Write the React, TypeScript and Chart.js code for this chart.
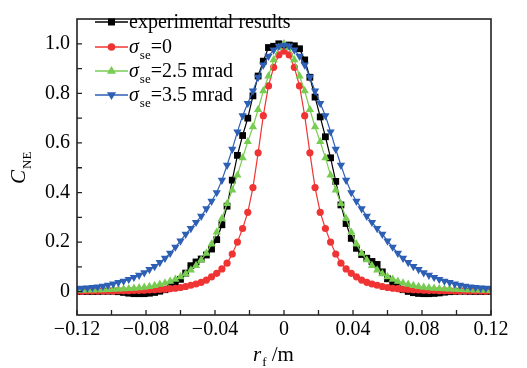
import React, { useEffect, useRef } from "react";
import { Chart, registerables } from "chart.js";

Chart.register(...registerables);

// r_f (m)
const rf = [
  -0.120, -0.117, -0.114, -0.111, -0.108, -0.105, -0.102, -0.099, -0.096, -0.093,
  -0.090, -0.087, -0.084, -0.081, -0.078, -0.075, -0.072, -0.069, -0.066, -0.063,
  -0.060, -0.057, -0.054, -0.051, -0.048, -0.045, -0.042, -0.039, -0.036, -0.033,
  -0.030, -0.027, -0.024, -0.021, -0.018, -0.015, -0.012, -0.009, -0.006, -0.003,
  0,
  0.003, 0.006, 0.009, 0.012, 0.015, 0.018, 0.021, 0.024, 0.027, 0.030,
  0.033, 0.036, 0.039, 0.042, 0.045, 0.048, 0.051, 0.054, 0.057, 0.060,
  0.063, 0.066, 0.069, 0.072, 0.075, 0.078, 0.081, 0.084, 0.087, 0.090,
  0.093, 0.096, 0.099, 0.102, 0.105, 0.108, 0.111, 0.114, 0.117, 0.120,
];

const experimental = [
  0.001, 0.001, 0.001, 0.001, 0.001, 0.002, 0.002, 0.002, 0.000, -0.003,
  -0.006, -0.008, -0.008, -0.008, -0.006, -0.003, 0.002, 0.008, 0.020, 0.034,
  0.050, 0.075, 0.105, 0.120, 0.132, 0.148, 0.172, 0.210, 0.270, 0.345,
  0.450, 0.550, 0.630, 0.700, 0.790, 0.870, 0.930, 0.985, 0.990, 1.000,
  0.990,
  0.995, 0.992, 0.980, 0.935, 0.865, 0.785, 0.705, 0.625, 0.540, 0.445,
  0.350, 0.275, 0.215, 0.175, 0.150, 0.135, 0.122, 0.110, 0.080, 0.052,
  0.035, 0.020, 0.008, 0.001, -0.004, -0.007, -0.008, -0.008, -0.007, -0.005,
  -0.002, 0.000, 0.001, 0.002, 0.002, 0.001, 0.001, 0.001, 0.001, 0.001,
];

const sigma0 = [
  0.002, 0.002, 0.003, 0.003, 0.003, 0.003, 0.003, 0.003, 0.004, 0.004,
  0.004, 0.005, 0.005, 0.006, 0.007, 0.008, 0.009, 0.010, 0.012, 0.014,
  0.017, 0.021, 0.026, 0.031, 0.038, 0.047, 0.060, 0.074, 0.092, 0.115,
  0.152, 0.200, 0.255, 0.320, 0.420, 0.560, 0.710, 0.830, 0.905, 0.955,
  0.970,
  0.955, 0.905, 0.830, 0.710, 0.560, 0.420, 0.320, 0.255, 0.200, 0.152,
  0.115, 0.092, 0.074, 0.060, 0.047, 0.038, 0.031, 0.026, 0.021, 0.017,
  0.014, 0.012, 0.010, 0.009, 0.008, 0.007, 0.006, 0.005, 0.005, 0.004,
  0.004, 0.004, 0.003, 0.003, 0.003, 0.003, 0.003, 0.003, 0.002, 0.002,
];

const sigma25 = [
  0.005, 0.005, 0.006, 0.006, 0.007, 0.007, 0.008, 0.009, 0.010, 0.011,
  0.012, 0.014, 0.016, 0.018, 0.021, 0.025, 0.030, 0.035, 0.042, 0.050,
  0.060, 0.072, 0.087, 0.105, 0.128, 0.155, 0.192, 0.240, 0.295, 0.355,
  0.410, 0.470, 0.540, 0.605, 0.665, 0.735, 0.810, 0.870, 0.935, 0.985,
  1.000,
  0.985, 0.935, 0.870, 0.810, 0.735, 0.665, 0.605, 0.540, 0.470, 0.410,
  0.355, 0.295, 0.240, 0.192, 0.155, 0.128, 0.105, 0.087, 0.072, 0.060,
  0.050, 0.042, 0.035, 0.030, 0.025, 0.021, 0.018, 0.016, 0.014, 0.012,
  0.011, 0.010, 0.009, 0.008, 0.007, 0.007, 0.006, 0.006, 0.005, 0.005,
];

const sigma35 = [
  0.013, 0.014, 0.015, 0.017, 0.019, 0.022, 0.026, 0.031, 0.037, 0.043,
  0.050, 0.058, 0.067, 0.077, 0.090, 0.102, 0.118, 0.135, 0.155, 0.180,
  0.205, 0.232, 0.255, 0.280, 0.305, 0.335, 0.365, 0.400, 0.450, 0.510,
  0.575, 0.645, 0.710, 0.760, 0.810, 0.865, 0.915, 0.950, 0.975, 0.990,
  0.995,
  0.990, 0.975, 0.950, 0.915, 0.865, 0.810, 0.760, 0.710, 0.645, 0.575,
  0.510, 0.450, 0.400, 0.365, 0.335, 0.305, 0.280, 0.255, 0.232, 0.205,
  0.180, 0.155, 0.135, 0.118, 0.102, 0.090, 0.077, 0.067, 0.058, 0.050,
  0.043, 0.037, 0.031, 0.026, 0.022, 0.019, 0.017, 0.015, 0.014, 0.013,
];

const xTicks = [-0.12, -0.1, -0.08, -0.06, -0.04, -0.02, 0, 0.02, 0.04, 0.06, 0.08, 0.1, 0.12];
const xLabels = ["\u22120.12", "", "\u22120.08", "", "\u22120.04", "", "0", "", "0.04", "", "0.08", "", "0.12"];
const yTicks = [0, 0.1, 0.2, 0.3, 0.4, 0.5, 0.6, 0.7, 0.8, 0.9, 1.0];
const yLabels = ["0", "", "0.2", "", "0.4", "", "0.6", "", "0.8", "", "1.0"];

const BLACK = "#000000";
const RED = "#f03434";
const GREEN = "#78cc52";
const BLUE = "#2d5fb4";

const SERIF = '"Liberation Serif", "Times New Roman", serif';

type Part = { t: string; italic?: boolean; sub?: boolean };

const legendRows: { color: string; marker: string; parts: Part[] }[] = [
  { color: BLACK, marker: "square", parts: [{ t: "experimental results" }] },
  { color: RED, marker: "circle", parts: [{ t: "\u03c3", italic: true }, { t: "se", sub: true }, { t: "=0" }] },
  { color: GREEN, marker: "tri", parts: [{ t: "\u03c3", italic: true }, { t: "se", sub: true }, { t: "=2.5 mrad" }] },
  { color: BLUE, marker: "tridown", parts: [{ t: "\u03c3", italic: true }, { t: "se", sub: true }, { t: "=3.5 mrad" }] },
];

function drawMarker(ctx: CanvasRenderingContext2D, kind: string, x: number, y: number, color: string) {
  ctx.fillStyle = color;
  ctx.beginPath();
  if (kind === "square") {
    ctx.rect(x - 3.5, y - 3.5, 7, 7);
  } else if (kind === "circle") {
    ctx.arc(x, y, 3.8, 0, Math.PI * 2);
  } else if (kind === "tri") {
    ctx.moveTo(x, y - 5);
    ctx.lineTo(x + 4.6, y + 2.8);
    ctx.lineTo(x - 4.6, y + 2.8);
    ctx.closePath();
  } else {
    ctx.moveTo(x, y + 5);
    ctx.lineTo(x + 4.6, y - 2.8);
    ctx.lineTo(x - 4.6, y - 2.8);
    ctx.closePath();
  }
  ctx.fill();
}

function drawParts(ctx: CanvasRenderingContext2D, parts: Part[], x: number, y: number, size: number, subSize: number, subDy: number) {
  let cx = x;
  for (const p of parts) {
    const fs = p.sub ? subSize : size;
    ctx.font = `${p.italic ? "italic " : ""}${fs}px ${SERIF}`;
    ctx.fillText(p.t, cx, y + (p.sub ? subDy : 0));
    cx += ctx.measureText(p.t).width + (p.italic ? 1 : 0);
  }
}

const decorPlugin = {
  id: "decor",
  afterDatasetsDraw(chart: any) {
    const ctx: CanvasRenderingContext2D = chart.ctx;
    const { left, right, top, bottom } = chart.chartArea;
    const xs = chart.scales.x;
    const ys = chart.scales.y;
    ctx.save();
    // frame
    ctx.strokeStyle = "#222";
    ctx.lineWidth = 1.6;
    ctx.strokeRect(left, top, right - left, bottom - top);
    // inward ticks
    ctx.lineWidth = 1.3;
    ctx.beginPath();
    for (const v of xTicks) {
      const px = xs.getPixelForValue(v);
      ctx.moveTo(px, bottom);
      ctx.lineTo(px, bottom - 5);
    }
    for (const v of yTicks) {
      const py = ys.getPixelForValue(v);
      ctx.moveTo(left, py);
      ctx.lineTo(left + 5, py);
    }
    ctx.stroke();

    // legend
    const rowY = [22, 47, 71, 95];
    ctx.textBaseline = "alphabetic";
    ctx.textAlign = "left";
    legendRows.forEach((row, i) => {
      const y = rowY[i];
      ctx.strokeStyle = row.color;
      ctx.lineWidth = 1.3;
      ctx.beginPath();
      ctx.moveTo(95, y);
      ctx.lineTo(128, y);
      ctx.stroke();
      drawMarker(ctx, row.marker, 111.5, y, row.color);
      ctx.fillStyle = "#000";
      drawParts(ctx, row.parts, 129, y + 6, 20, 13, 6);
    });

    // y title C_NE (rotated)
    ctx.save();
    ctx.translate(25, 184);
    ctx.rotate(-Math.PI / 2);
    ctx.fillStyle = "#000";
    drawParts(ctx, [{ t: "C", italic: true }, { t: "NE", sub: true }], 0, 0, 21, 13, 6);
    ctx.restore();

    // x title r_f /m
    ctx.fillStyle = "#000";
    drawParts(ctx, [{ t: "r", italic: true }, { t: "f", sub: true }, { t: " /m" }], 253, 361, 21, 13, 5);
    ctx.restore();
  },
};

export default function App() {
  const ref = useRef<HTMLCanvasElement>(null);
  useEffect(() => {
    const mk = (label: string, data: number[], color: string, style: string, radius: number, rot: number, order: number) => ({
      label,
      data: rf.map((x, i) => ({ x, y: data[i] })),
      borderColor: color,
      backgroundColor: color,
      borderWidth: 1.2,
      pointStyle: style,
      pointRadius: radius,
      pointRotation: rot,
      pointBorderWidth: 0,
      pointBackgroundColor: color,
      tension: 0,
      order,
    });
    const chart = new Chart(ref.current!, {
      type: "line",
      data: {
        datasets: [
          mk("experimental results", experimental, BLACK, "rect", 4.8, 0, 3),
          mk("\u03c3se=0", sigma0, RED, "circle", 3.6, 0, 2),
          mk("\u03c3se=2.5 mrad", sigma25, GREEN, "triangle", 4.8, 0, 1),
          mk("\u03c3se=3.5 mrad", sigma35, BLUE, "triangle", 4.8, 180, 0),
        ] as any,
      },
      options: {
        responsive: false,
        animation: false,
        devicePixelRatio: 1,
        parsing: false as any,
        layout: { padding: { left: 0, top: 7, right: 36, bottom: 0 } },
        plugins: { legend: { display: false }, tooltip: { enabled: false } },
        scales: {
          x: {
            type: "linear",
            min: -0.12,
            max: 0.12,
            afterBuildTicks: (s: any) => {
              s.ticks = xTicks.map((v) => ({ value: v }));
            },
            afterFit: (s: any) => {
              s.height = 53;
            },
            ticks: {
              autoSkip: false,
              maxRotation: 0,
              padding: 3,
              color: "#000",
              font: { family: SERIF, size: 20 },
              callback: (_v: any, i: number) => xLabels[i],
            },
            grid: { display: false, drawTicks: false },
            border: { display: false },
          },
          y: {
            type: "linear",
            min: -0.094,
            max: 1.1,
            afterBuildTicks: (s: any) => {
              s.ticks = yTicks.map((v) => ({ value: v }));
            },
            afterFit: (s: any) => {
              s.width = 77;
            },
            ticks: {
              autoSkip: false,
              padding: 7,
              color: "#000",
              font: { family: SERIF, size: 20 },
              callback: (_v: any, i: number) => yLabels[i],
            },
            grid: { display: false, drawTicks: false },
            border: { display: false },
          },
        },
      } as any,
      plugins: [decorPlugin],
    });
    return () => chart.destroy();
  }, []);
  return (
    <div style={{ position: "absolute", left: 0, top: 0, width: 527, height: 368, background: "#fff" }}>
      <canvas ref={ref} width={527} height={368} style={{ display: "block", width: 527, height: 368 }} />
    </div>
  );
}
